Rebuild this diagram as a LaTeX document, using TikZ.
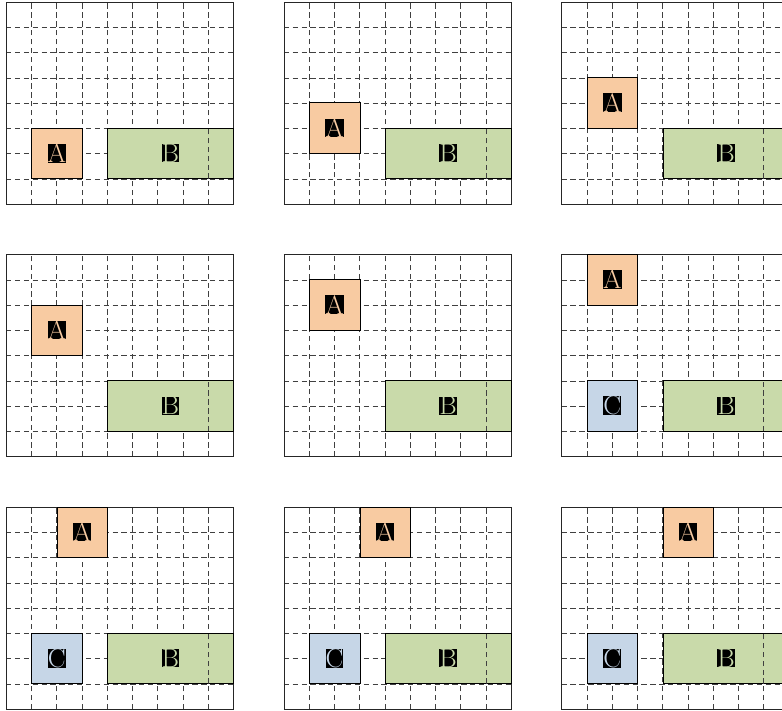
\documentclass[tikz,border=0pt]{standalone}
\usepackage{xcolor}
\definecolor{peach}{HTML}{F8CBA2}
\definecolor{sage}{HTML}{C9DAAA}
\definecolor{sky}{HTML}{C6D6E7}
\newcommand{\lbl}[2]{{\setlength{\fboxsep}{0pt}\colorbox{black}{\textcolor{#2}{\fontsize{30}{30}\selectfont #1}}}}
\tikzset{
  gridline/.style={draw=black!75, line width=0.5pt, dash pattern=on 6pt off 4pt},
  frame/.style={draw=black!85, line width=0.6pt},
  sqbox/.style={draw=black, line width=0.6pt, minimum width=2cm, minimum height=2cm, inner sep=0pt, anchor=south west},
  longbox/.style={draw=black, line width=0.6pt, minimum width=5cm, minimum height=2cm, inner sep=0pt, anchor=south west},
}
\newcommand{\panelgrid}{%
  \draw[gridline] (0,0) grid (9,8);
  \draw[frame] (0,0) rectangle (9,8);
}
% #1 name prefix, #2 A x, #3 A y, #4 with C (1/0)
\newcommand{\mypanel}[5]{%
  \begin{scope}[shift={(#1)}]
    \panelgrid
    \node[sqbox, fill=peach] (#2A) at (#3,#4) {\lbl{A}{peach}};
    \node[longbox, fill=sage] (#2B) at (4,1) {\lbl{B}{sage}};
    \ifnum#5=1
      \node[sqbox, fill=sky] (#2C) at (1,1) {\lbl{C}{sky}};
    \fi
    \draw[gridline] (8,1) -- (8,3);
  \end{scope}
}
\begin{document}
\begin{tikzpicture}
\useasboundingbox (-0.238,-0.04) rectangle (30.73,28.08);
\clip (-0.238,-0.04) rectangle (30.73,28.08);
\mypanel{0,20}{p1}{1}{1}{0}
\mypanel{11,20}{p2}{1}{2}{0}
\mypanel{22,20}{p3}{1}{3}{0}
\mypanel{0,10}{p4}{1}{4}{0}
\mypanel{11,10}{p5}{1}{5}{0}
\mypanel{22,10}{p6}{1}{6}{1}
\mypanel{0,0}{p7}{2}{6}{1}
\mypanel{11,0}{p8}{3}{6}{1}
\mypanel{22,0}{p9}{4}{6}{1}
\end{tikzpicture}
\end{document}
